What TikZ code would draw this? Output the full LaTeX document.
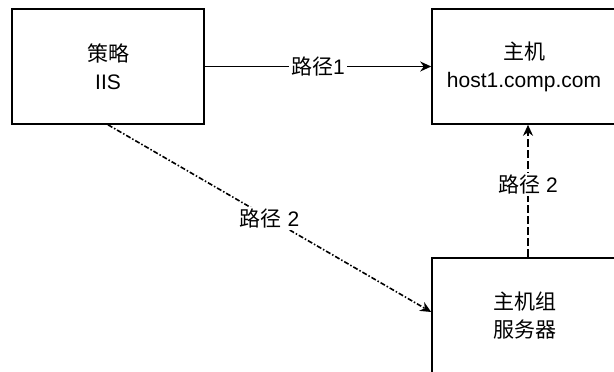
\documentclass[tikz,border=0pt]{standalone}
\usepackage{fontspec}
\setmainfont{Liberation Sans}
\newfontfamily\cjk{Noto Sans CJK SC}
\usetikzlibrary{arrows.meta,calc}
\begin{document}
\begin{tikzpicture}[x=1pt,y=-1pt,
  every node/.style={font=\fontsize{21}{28}\selectfont, align=center},
  box/.style={draw, line width=1.6pt, minimum height=115pt, inner sep=0pt},
  link/.style={line width=1.6pt, -{Stealth[length=11pt,width=10pt]}},
  dashdot/.style={dash pattern=on 5pt off 2pt on 1.5pt off 2pt},
  longdash/.style={dash pattern=on 8pt off 3pt},
  tag/.style={fill=white, inner sep=2pt}]
  \clip (0,0) rectangle (614,372);
  \fill[white] (0,0) rectangle (614,372);

  % boxes
  \node[box, minimum width=192pt] (pol) at (108,66.5) {{\cjk 策略}\\IIS};
  \node[box, minimum width=184pt] (host) at (524,66.5) {{\cjk 主机}\\host1.comp.com};
  \node[box, minimum width=186pt] (grp) at (525,315.5) {{\cjk 主机组}\\{\cjk 服务器}};

  % connectors
  \draw[link] (pol.east) -- node[tag] {{\cjk 路径}1} (host.west);
  \draw[link, dashdot] (pol.south) -- node[tag] {{\cjk 路径} 2} ($(grp.west)+(0,-3.5)$);
  \draw[link, longdash] ($(grp.north)+(3,0)$) -- node[tag, pos=0.55] {{\cjk 路径} 2} ($(host.south)+(4,0)$);
\end{tikzpicture}
\end{document}
